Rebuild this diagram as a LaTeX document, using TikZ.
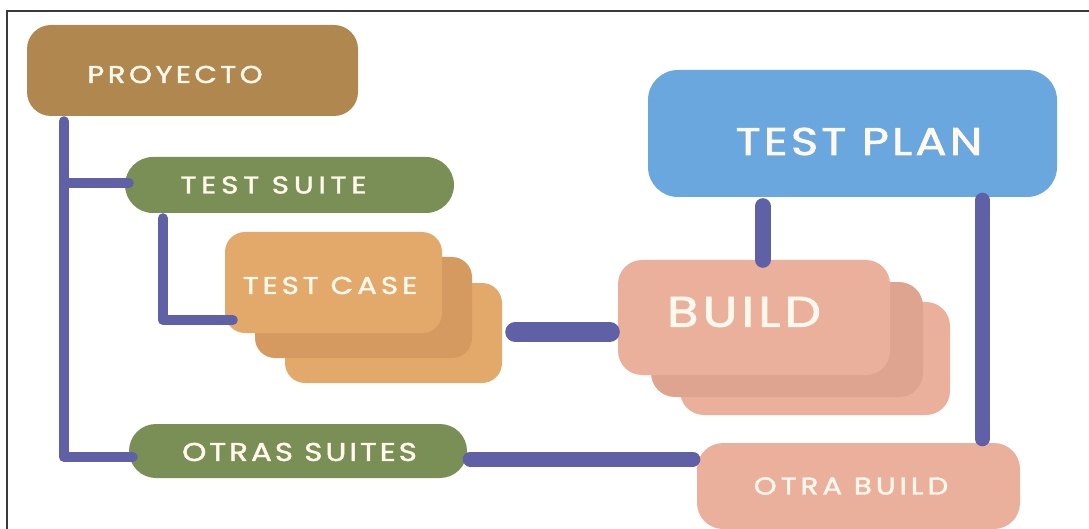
\documentclass[tikz,border=0pt]{standalone}
\usepackage{fontspec}
\setmainfont{Poppins}[FakeBold=1.6]
\usetikzlibrary{calc}
\definecolor{frame}{HTML}{3A3A3A}
\definecolor{link}{HTML}{6060A6}
\definecolor{brown}{HTML}{B0874F}
\definecolor{olive}{HTML}{7A8F55}
\definecolor{tcA}{HTML}{E3A96B}
\definecolor{tcB}{HTML}{D49A5F}
\definecolor{bdA}{HTML}{EBB09C}
\definecolor{bdB}{HTML}{DFA48F}
\definecolor{plan}{HTML}{6AA7DE}
\definecolor{txt}{HTML}{FFF8EC}
\newcommand\spaced[3]{\scalebox{1.2}[1]{\fontsize{#1}{#1}\selectfont\addfontfeature{LetterSpace=#2}#3}}
\tikzset{
  box/.style={draw=none, rounded corners=#1, inner sep=0pt, text=txt},
  box/.default=22pt,
  lbl/.style={text=txt, inner sep=0pt},
  tree/.style={draw=link, line width=10pt, line cap=round, line join=round},
  wide/.style={draw=link, line width=#1, line cap=round},
}
\begin{document}
\begin{tikzpicture}[x=1pt, y=-1pt]
\useasboundingbox (0,0) rectangle (1089,529);
\draw[frame, line width=1.2pt] (7,530) -- (7,11) -- (1090,11);

% left tree boxes
\node[box=24pt, fill=brown, minimum width=331pt, minimum height=91pt,
      label={[lbl, xshift=-17.5pt, yshift=-4pt]center:\spaced{24.3}{12}{PROYECTO}}] (pro) at (192.5,70.5) {};
\node[box=28pt, fill=olive, minimum width=329pt, minimum height=56pt,
      label={[lbl, xshift=-16pt, yshift=0pt]center:\spaced{24.3}{17}{TEST SUITE}}] (suite) at (289.5,185) {};
\node[box=27pt, fill=olive, minimum width=338pt, minimum height=54pt,
      label={[lbl, xshift=1.5pt, yshift=-1pt]center:\spaced{25.7}{10}{OTRAS SUITES}}] (otras) at (298,451) {};

% test case stack
\node[box=20pt, fill=tcA, minimum width=217pt, minimum height=100pt] (tc3) at (393.5,333) {};
\node[box=20pt, fill=tcB, minimum width=217pt, minimum height=101pt] (tc2) at (363.5,307.5) {};
\node[box=20pt, fill=tcA, minimum width=217pt, minimum height=101pt,
      label={[lbl, xshift=-3.5pt, yshift=-3pt]center:\spaced{24.3}{14}{TEST CASE}}] (tc1) at (333.5,282.5) {};

% build stack
\node[box=24pt, fill=bdA, minimum width=270pt, minimum height=113pt] (build3) at (815,358.5) {};
\node[box=24pt, fill=bdB, minimum width=272pt, minimum height=115pt] (build2) at (787,339.5) {};
\node[box=24pt, fill=bdA, minimum width=272pt, minimum height=115pt,
      label={[lbl, xshift=-10pt, yshift=5.5pt]center:\spaced{42.9}{8}{BUILD}}] (build1) at (754,317.5) {};

% test plan
\node[box=30pt, fill=plan, minimum width=409pt, minimum height=127pt,
      label={[lbl, xshift=6.5pt, yshift=-8pt]center:\spaced{38.6}{7}{TEST PLAN}}] (plan) at (852.5,133.5) {};

% otra build
\node[box=26pt, fill=bdA, minimum width=323pt, minimum height=86pt,
      label={[lbl, xshift=-7.5pt, yshift=0pt]center:\spaced{24.3}{14}{OTRA BUILD}}] (obuild) at (858.5,486) {};

% connectors
\coordinate (trunktop) at ($(pro.south west)+(37,5)$);
\draw[tree] (trunktop) |- ($(otras.west)+(4,6)$);
\draw[tree] ($(trunktop |- suite.west)+(0,-2)$) -- ($(suite.west)+(4,-2)$);
\coordinate (stop) at ($(suite.south west)+(38,5)$);
\draw[tree] (stop) |- ($(tc1.west)+(8,37.5)$);
\draw[wide=20pt] ($(tc3.east)+(13,-1)$) -- ($(tc3.east -| build1.west)+(-8,-1)$);
\draw[wide=16pt] ($(plan.south west)+(115,9)$) -- ($(build1.north west)+(145,0)$);
\draw[wide=15pt] ($(plan.south east)+(-75,3)$) -- ($(obuild.north east)+(-38,-4)$);
\draw[wide=15pt] ($(otras.east)+(3,8)$) -- ($(otras.east -| obuild.west)+(-4,8)$);
\end{tikzpicture}
\end{document}
